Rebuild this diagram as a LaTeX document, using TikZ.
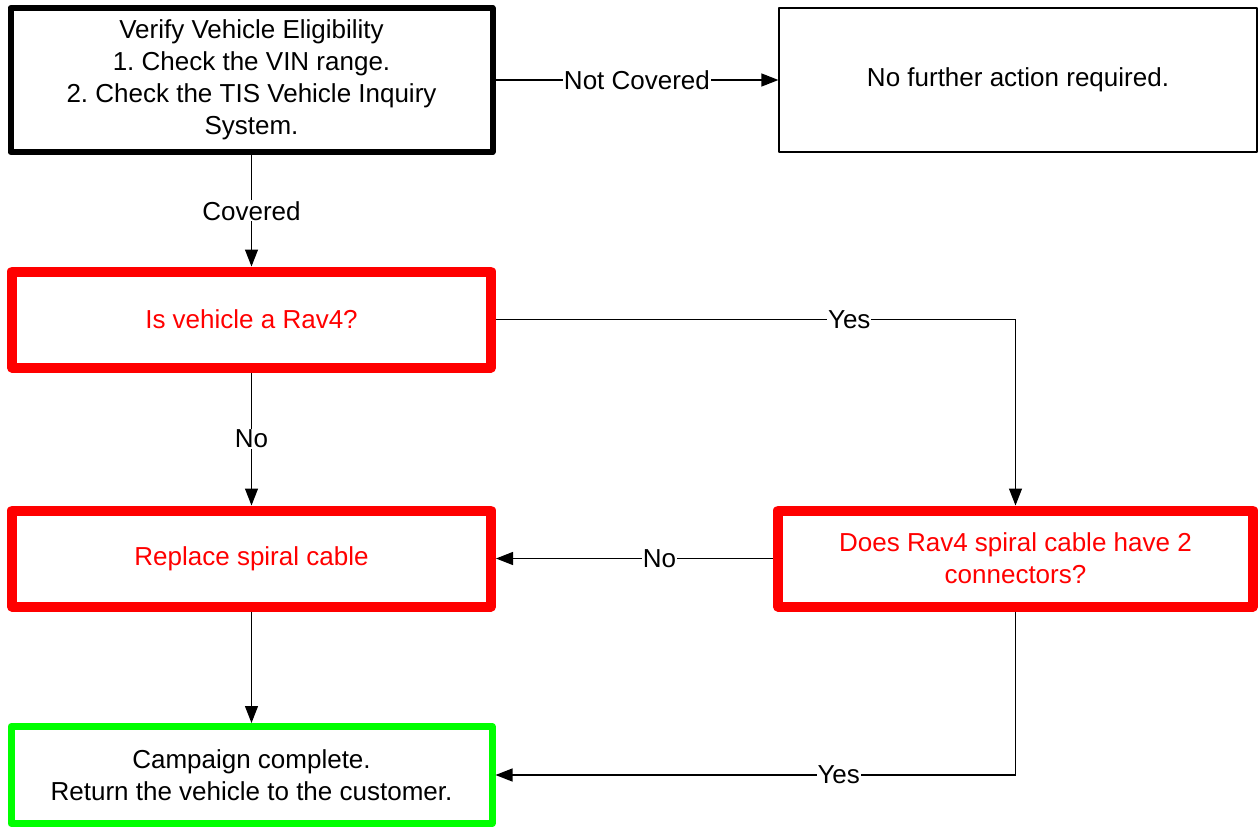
\documentclass[tikz,border=0pt]{standalone}
\usepackage{fontspec}
\setmainfont{Liberation Sans}
\usetikzlibrary{arrows.meta}
\definecolor{fred}{RGB}{255,0,0}
\definecolor{fgreen}{RGB}{0,255,0}
\frenchspacing
\begin{document}
\begin{tikzpicture}[x=1pt,y=-1pt,
  box/.style={draw, line join=round, align=center, inner sep=0pt,
    font=\fontsize{26}{32}\selectfont},
  blackbox/.style={box, line width=6pt, minimum width=482pt, minimum height=144pt},
  plainbox/.style={box, line width=1.2pt, minimum width=478pt, minimum height=144pt},
  redbox/.style={box, draw=fred, text=fred, line width=10pt, minimum height=96pt},
  greenbox/.style={box, draw=fgreen, line width=7pt, minimum width=481pt, minimum height=97pt},
  conn/.style={line width=1.2pt, -{Triangle[length=17pt,width=13pt]}},
  lbl/.style={fill=white, inner sep=1pt, font=\fontsize{26}{32}\selectfont}]
\useasboundingbox (0,0) rectangle (1258,827);
\node[blackbox] (b1) at (251.5,80) {Verify Vehicle Eligibility\\1. Check the VIN range.\\2. Check the TIS Vehicle Inquiry\\System.};
\node[plainbox] (b2) at (1018,80) {No further action required.};
\node[redbox, minimum width=479pt] (b3) at (251.5,319.5) {Is vehicle a Rav4?};
\node[redbox, minimum width=479pt] (b4) at (251.5,558.5) {Replace spiral cable};
\node[redbox, minimum width=475pt] (b5) at (1015.5,558.5) {Does Rav4 spiral cable have 2\\connectors?};
\node[greenbox] (b6) at (251.5,775) {Campaign complete.\\Return the vehicle to the customer.};
\draw[conn] (b1.east) -- (b2.west) node[lbl, midway] {Not Covered};
\draw[conn] (b1.south) -- (b3.north) node[lbl, midway] {Covered};
\draw[conn] (b3.east) -| (b5.north) node[lbl, pos=0.34] {Yes};
\draw[conn] (b3.south) -- (b4.north) node[lbl, midway] {No};
\draw[conn] (b5.west) -- (b4.east) node[lbl, pos=0.41] {No};
\draw[conn] (b4.south) -- (b6.north);
\draw[conn] (b5.south) |- (b6.east) node[lbl, pos=0.67] {Yes};
\end{tikzpicture}
\end{document}
